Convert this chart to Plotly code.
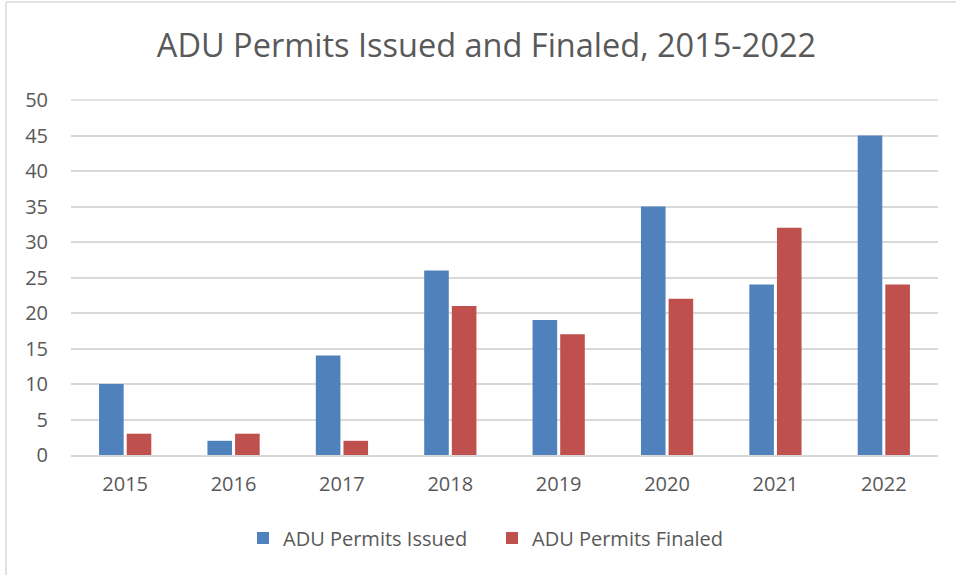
import plotly.graph_objects as go

years = ["2015", "2016", "2017", "2018", "2019", "2020", "2021", "2022"]
issued = [10, 2, 14, 26, 19, 35, 24, 45]
finaled = [3, 3, 2, 21, 17, 22, 32, 24]
y_max = 50

FONT = "Open Sans"
W, H = 956, 575
L, R, T, B = 71, 18, 100, 120
PW, PH = W - L - R, H - T - B

fig = go.Figure()
fig.add_trace(go.Bar(x=years, y=issued, name="ADU Permits Issued", marker_color="#4F81BD",
                     marker_line_width=0))
fig.add_trace(go.Bar(x=years, y=finaled, name="ADU Permits Finaled", marker_color="#C0504D",
                     marker_line_width=0))

fig.update_layout(
    width=W, height=H,
    margin=dict(l=L, r=R, t=T, b=B),
    paper_bgcolor="white", plot_bgcolor="white",
    barmode="group", bargap=0.49, bargroupgap=0.11,
    title=dict(text="ADU Permits Issued and Finaled, 2015-2022", x=486.5 / W, xanchor="center",
               xref="container", y=1 - 46 / H, yanchor="middle",
               font=dict(family=FONT, size=32.5, color="#595959")),
    font=dict(family=FONT, color="#595959", size=20),
    showlegend=True,
    legend=dict(orientation="h", x=(243 - L) / PW, xanchor="left", y=-(538 - 455) / PH,
                yanchor="middle", font=dict(family=FONT, size=20, color="#595959"),
                itemwidth=30, traceorder="normal", entrywidth=204, entrywidthmode="pixels"),
    xaxis=dict(showgrid=False, showline=True, linecolor="#D9D9D9", linewidth=1.5,
               ticks="", tickfont=dict(size=20, color="#595959"), ticklabelstandoff=10),
    yaxis=dict(range=[0, y_max], tickvals=list(range(0, y_max + 1, 5)), showgrid=True,
               gridcolor="#D9D9D9", gridwidth=1.5,
               zeroline=False, ticks="", tickfont=dict(size=20, color="#595959"),
               ticklabelstandoff=22),
    shapes=[
        dict(type="line", xref="paper", yref="paper", x0=0, x1=1, y0=1, y1=1,
             layer="below", line=dict(color="#D9D9D9", width=1.5)),
        dict(type="line", xref="paper", yref="paper",
             x0=-(L - 6) / PW, x1=(W - L) / PW,
             y0=1 + (T - 2) / PH, y1=1 + (T - 2) / PH,
             line=dict(color="#D9D9D9", width=1.5)),
        dict(type="line", xref="paper", yref="paper",
             x0=-(L - 6) / PW, x1=-(L - 6) / PW,
             y0=1 + (T - 2) / PH, y1=-(B + 5) / PH,
             line=dict(color="#D9D9D9", width=1.5)),
    ],
)

fig.write_html("out.html", config={"displayModeBar": False},
               post_script="document.body.style.margin='0';document.body.style.overflow='hidden';")
